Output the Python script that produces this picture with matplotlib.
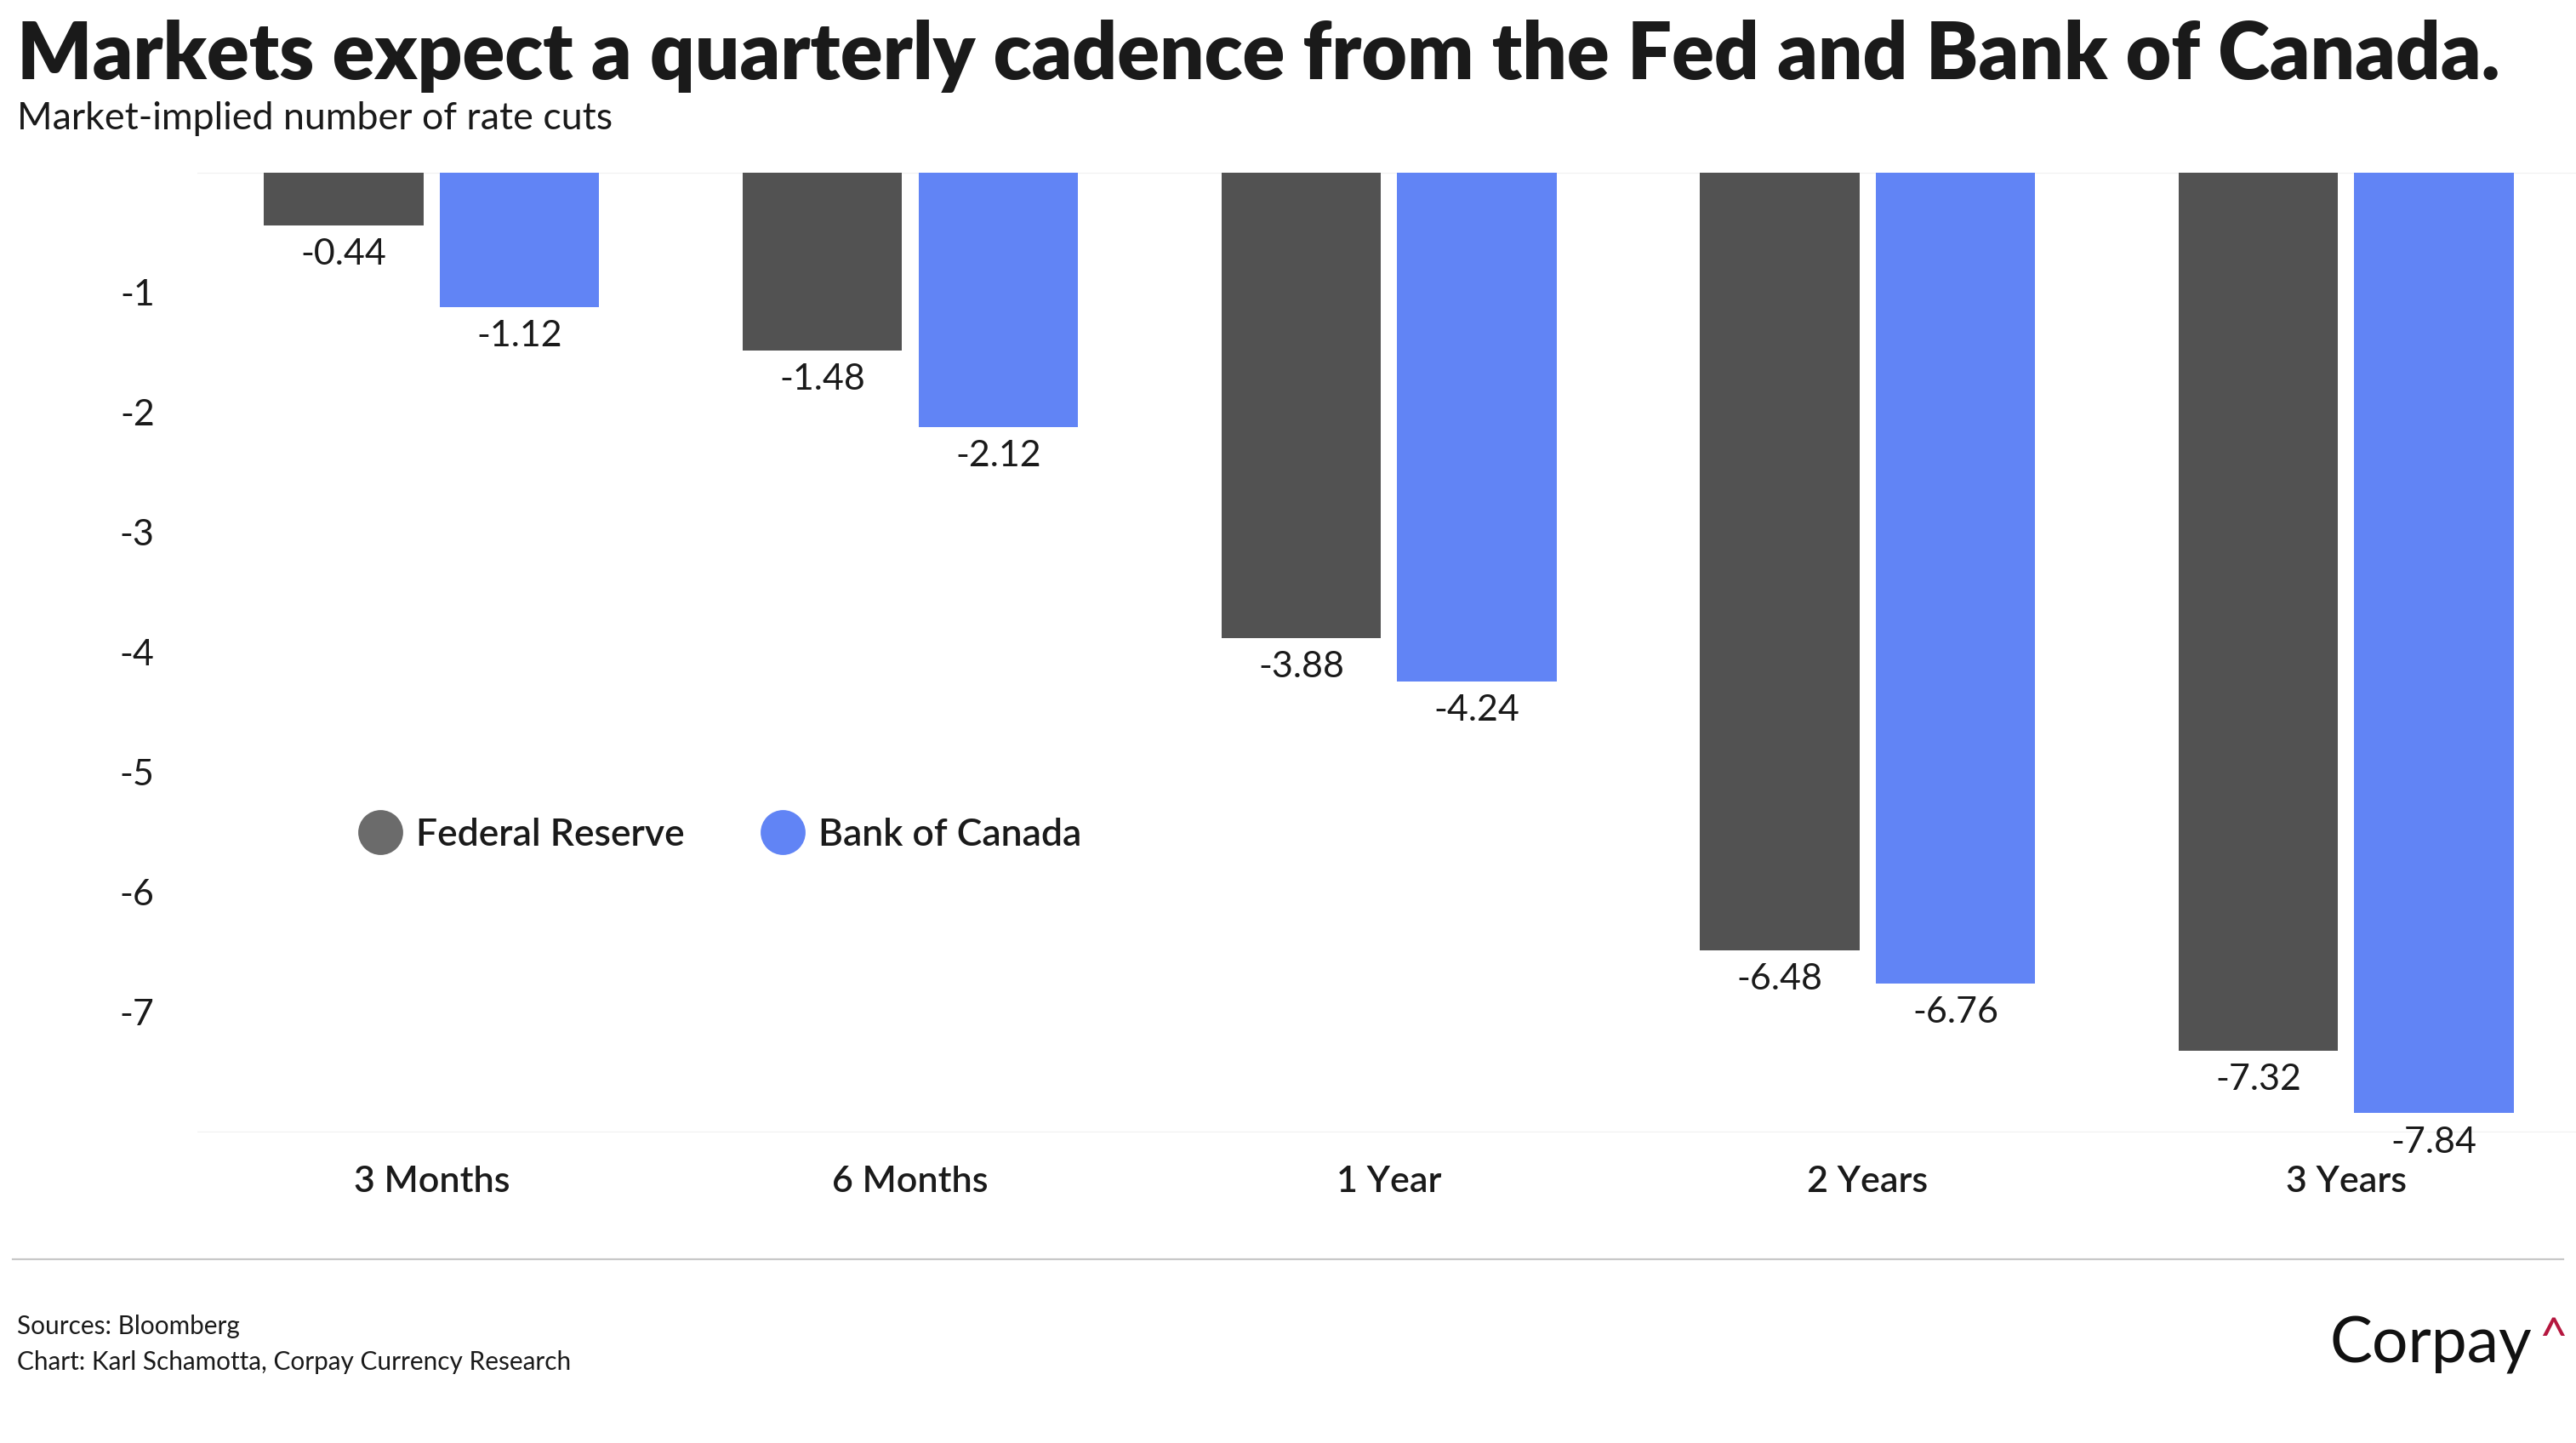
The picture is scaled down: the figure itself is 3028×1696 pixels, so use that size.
import matplotlib.pyplot as plt
import numpy as np
from matplotlib.lines import Line2D

horizons = ['3 Months', '6 Months', '1 Year', '2 Years', '3 Years']
fed = [-0.44, -1.48, -3.88, -6.48, -7.32]
boc = [-1.12, -2.12, -4.24, -6.76, -7.84]
yticks = [-1, -2, -3, -4, -5, -6, -7]

FED_C = '#525252'
FED_LEG = '#6b6b6b'
BOC_C = '#6184f5'
TXT = '#1a1a1a'

plt.rcParams['font.family'] = ['Lato', 'DejaVu Sans']

fig = plt.figure(figsize=(15.14, 8.48), dpi=200)
ax = fig.add_axes([0.0765, 0.2153, 0.9235, 0.6651])

x = np.arange(len(horizons))
w = 0.333
gap = 0.034
b1 = ax.bar(x - (w + gap) / 2, fed, w, color=FED_C, zorder=3)
b2 = ax.bar(x + (w + gap) / 2, boc, w, color=BOC_C, zorder=3)

for bars, vals in [(b1, fed), (b2, boc)]:
    for r, v in zip(bars, vals):
        ax.annotate(f'{v:.2f}', xy=(r.get_x() + r.get_width() / 2, v),
                    xytext=(0, -5.5), textcoords='offset points',
                    ha='center', va='top', fontsize=15.5, color=TXT, zorder=4)

ax.set_xlim(-0.49, 4.48)
ax.set_ylim(-8, 0)
ax.set_yticks(yticks)
ax.set_yticklabels([str(t) for t in yticks])
ax.set_yticks(np.arange(-8, 1), minor=True)
ax.grid(axis='y', which='minor', color='#f0f0f0', lw=0.8, zorder=0)
ax.set_xticks(x)
ax.set_xticklabels(horizons, fontweight='semibold')
ax.tick_params(axis='x', length=0, pad=14, labelsize=15.5, labelcolor=TXT)
ax.tick_params(axis='y', which='both', length=0, pad=18, labelsize=15.5, labelcolor=TXT)
for s in ax.spines.values():
    s.set_visible(False)

handles = [Line2D([], [], ls='none', marker='o', markersize=18, color=FED_LEG, label='Federal Reserve'),
           Line2D([], [], ls='none', marker='o', markersize=18, color=BOC_C, label='Bank of Canada')]
leg = ax.legend(handles=handles, ncol=2, frameon=False, loc='center left',
                bbox_to_anchor=(0.127, 0.4215), bbox_transform=fig.transFigure,
                fontsize=16, handlelength=1.0, handletextpad=0.45, columnspacing=2.1)
for t in leg.get_texts():
    t.set_color(TXT)
    t.set_fontweight('semibold')

fig.text(0.0065, 0.961, 'Markets expect a quarterly cadence from the Fed and Bank of Canada.',
         fontsize=33.2, fontweight='heavy', color=TXT, va='center', ha='left')
fig.text(0.0065, 0.918, 'Market-implied number of rate cuts', fontsize=16.1, color=TXT,
         va='center', ha='left')

fig.add_artist(Line2D([0.005, 0.995], [0.1274, 0.1274], color='#c8c8c8', lw=0.8,
                      transform=fig.transFigure))
fig.text(0.0065, 0.081, 'Sources: Bloomberg', fontsize=10.7, color=TXT, va='center')
fig.text(0.0065, 0.056, 'Chart: Karl Schamotta, Corpay Currency Research', fontsize=10.7,
         color=TXT, va='center')
fig.text(0.983, 0.068, 'Corpay', fontsize=27, color='#111111', ha='right', va='center')
fig.text(0.9855, 0.072, '^', fontsize=21, color='#b5173f', ha='left', va='center')

fig.savefig('out.png', dpi=200, facecolor='white')
